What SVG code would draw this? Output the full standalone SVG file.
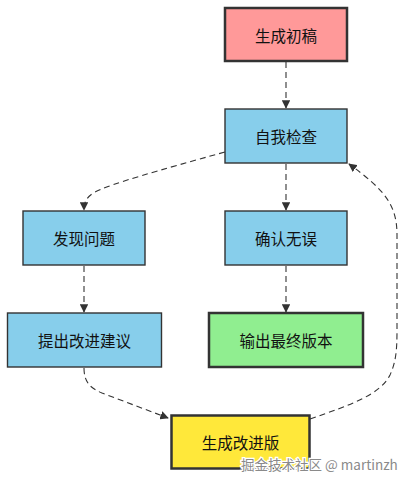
<svg xmlns="http://www.w3.org/2000/svg" width="413" height="486" viewBox="0 0 413 486">
<defs>
<marker id="arr" viewBox="0 0 10 10" refX="9" refY="5" markerWidth="8.5" markerHeight="8.5" markerUnits="userSpaceOnUse" orient="auto">
<path d="M0,0 L10,5 L0,10 z" fill="#333"/>
</marker>
</defs>
<style>
.n rect{stroke:#333;stroke-width:1.4}
.n.b rect{stroke-width:2.5}
.n text{font-family:"Noto Sans CJK SC","Liberation Sans",sans-serif;font-size:15.5px;fill:#111;text-anchor:middle;dominant-baseline:central}
.e path{fill:none;stroke:#333;stroke-width:1.1;stroke-dasharray:6 4;marker-end:url(#arr)}
.wm{font-family:"Noto Sans CJK SC","Liberation Sans",sans-serif;font-size:13.5px;fill:#8a8a8a;stroke:#fff;stroke-width:2.5;paint-order:stroke}
</style>
<rect width="413" height="486" fill="#fff"/>
<g id="edges" class="e">
<path d="M286,62 L286,108"/>
<path d="M225,152 C160,170 110,184 95,192 C86,197 84,203 84,210"/>
<path d="M286,164 L286,210"/>
<path d="M84,266 L84,312"/>
<path d="M286,266 L286,312"/>
<path d="M84,368 C84,382 90,388 102,393 L168,418"/>
<path d="M310,419 C350,405 380,395 390,375 C396,362 397,350 397,330 L397,235 C397,205 385,190 349,164"/>
</g>
<g id="n1" class="n b"><rect x="225" y="8" width="122" height="53" fill="#ff9999"/><text x="286" y="34.5">生成初稿</text></g>
<g id="n2" class="n"><rect x="225" y="109" width="122" height="54" fill="#87ceeb"/><text x="286" y="136">自我检查</text></g>
<g id="n3" class="n"><rect x="23" y="211" width="122" height="54" fill="#87ceeb"/><text x="84" y="238">发现问题</text></g>
<g id="n4" class="n"><rect x="225" y="211" width="122" height="54" fill="#87ceeb"/><text x="286" y="238">确认无误</text></g>
<g id="n5" class="n"><rect x="7.5" y="313" width="154" height="54" fill="#87ceeb"/><text x="84.5" y="340">提出改进建议</text></g>
<g id="n6" class="n b"><rect x="209" y="313" width="154" height="54" fill="#90ee90"/><text x="286" y="340">输出最终版本</text></g>
<g id="n7" class="n b"><rect x="171.5" y="415.5" width="138" height="53" fill="#ffe83a"/><text x="240.5" y="442">生成改进版</text></g>
<text class="wm" x="241" y="470">掘金技术社区 @ martinzh</text>
</svg>
